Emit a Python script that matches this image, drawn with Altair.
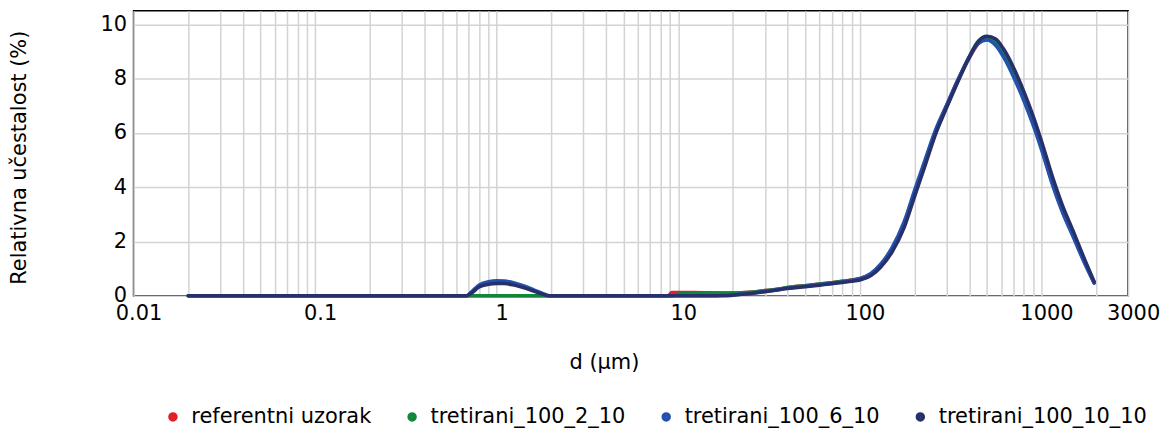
import altair as alt
import pandas as pd

# particle size d (µm)
d_um = [0.02, 0.1, 0.5, 0.68, 0.72, 0.8, 0.9, 1.0, 1.1, 1.25, 1.4, 1.6, 1.8, 1.95,
        5, 8.8, 9.2, 10.5, 12, 15, 18, 20, 25, 30, 35, 40, 50, 60, 70, 80, 90, 100,
        115, 130, 150, 175, 200, 230, 260, 300, 350, 400, 450, 500, 560, 620, 700,
        800, 900, 1000, 1150, 1300, 1500, 1700, 1950]

referentni_uzorak = [0, 0, 0, 0, 0, 0, 0, 0, 0, 0, 0, 0, 0, 0,
                     0, 0, 0.12, 0.12, 0.12, 0.11, 0.10, 0.10, 0.13, 0.19, 0.24, 0.30, 0.37, 0.43, 0.48, 0.53, 0.58, 0.64,
                     0.80, 1.12, 1.70, 2.62, 3.78, 4.98, 6.02, 7.00, 8.00, 8.75, 9.30, 9.45, 9.30, 8.88, 8.20,
                     7.30, 6.40, 5.45, 4.15, 3.15, 2.20, 1.35, 0.48]

tretirani_100_2_10 = [0, 0, 0, 0, 0, 0, 0, 0, 0, 0, 0, 0, 0, 0,
                      0, 0, 0, 0.09, 0.10, 0.10, 0.10, 0.10, 0.13, 0.19, 0.24, 0.30, 0.37, 0.43, 0.48, 0.53, 0.57, 0.62,
                      0.78, 1.08, 1.66, 2.60, 3.76, 4.96, 6.00, 6.98, 7.98, 8.80, 9.38, 9.52, 9.38, 8.98, 8.32,
                      7.42, 6.52, 5.58, 4.26, 3.26, 2.28, 1.40, 0.50]

tretirani_100_6_10 = [0, 0, 0, 0, 0.12, 0.40, 0.52, 0.55, 0.54, 0.47, 0.37, 0.22, 0.08, 0,
                      0, 0, 0, 0, 0, 0, 0.02, 0.04, 0.09, 0.16, 0.22, 0.28, 0.35, 0.41, 0.46, 0.51, 0.56, 0.63,
                      0.82, 1.16, 1.76, 2.72, 3.88, 5.06, 6.08, 7.02, 8.02, 8.80, 9.30, 9.42, 9.22, 8.78, 8.08,
                      7.18, 6.28, 5.38, 4.08, 3.10, 2.14, 1.30, 0.46]

tretirani_100_10_10 = [0, 0, 0, 0, 0.08, 0.32, 0.42, 0.45, 0.45, 0.39, 0.30, 0.17, 0.05, 0,
                       0, 0, 0, 0, 0, 0, 0, 0.02, 0.08, 0.15, 0.21, 0.27, 0.33, 0.39, 0.44, 0.49, 0.53, 0.58,
                       0.74, 1.05, 1.60, 2.50, 3.65, 4.85, 5.92, 6.92, 7.95, 8.78, 9.38, 9.56, 9.46, 9.08, 8.42,
                       7.52, 6.62, 5.70, 4.38, 3.36, 2.36, 1.46, 0.52]

series_names = ["referentni uzorak", "tretirani_100_2_10", "tretirani_100_6_10", "tretirani_100_10_10"]
series_colors = ["#e31f26", "#12873a", "#2352ad", "#27306b"]

x_gridlines = [0.01, 0.02, 0.03, 0.04, 0.05, 0.06, 0.07, 0.08, 0.09,
               0.1, 0.2, 0.3, 0.4, 0.5, 0.6, 0.7, 0.8, 0.9,
               1, 2, 3, 4, 5, 6, 7, 8, 9,
               10, 20, 30, 40, 50, 60, 70, 80, 90,
               100, 200, 300, 400, 500, 600, 700, 800, 900,
               1000, 2000, 3000]
x_labels = [0.01, 0.1, 1, 10, 100, 1000, 3000]
y_ticks = [0, 2, 4, 6, 8, 10]

series_values = [referentni_uzorak, tretirani_100_2_10, tretirani_100_6_10, tretirani_100_10_10]
rows = []
for name, vals in zip(series_names, series_values):
    for d, v in zip(d_um, vals):
        rows.append({"d": d, "v": v, "serija": name})
df = pd.DataFrame(rows)

FONT = "DejaVu Sans"
label_test = " || ".join(f"datum.value == {v}" for v in x_labels)

x_enc = alt.X("d:Q",
              scale=alt.Scale(type="log", domain=[0.01, 3000], nice=False),
              axis=alt.Axis(values=x_gridlines, labelExpr=f"({label_test}) ? '' + datum.value : ''",
                            title="d (µm)", titleX=472, titleY=56,
                            labelOffset=5, labelPadding=7, labelOverlap=False, labelFlush=False,
                            labelBound=False, ticks=False, domain=False))
y_enc = alt.Y("v:Q",
              scale=alt.Scale(domain=[0, 10.5], nice=False),
              axis=alt.Axis(values=y_ticks, title="Relativna učestalost (%)",
                            titleX=-104, titleY=147, labelPadding=7,
                            ticks=False, domain=False))
color_enc = alt.Color("serija:N",
                      scale=alt.Scale(domain=series_names, range=series_colors),
                      legend=alt.Legend(title=None, orient="none", legendX=29, legendY=397,
                                        direction="horizontal", columns=4,
                                        symbolType="circle", symbolSize=20, symbolStrokeWidth=5,
                                        columnPadding=28, labelOffset=8, padding=0, labelLimit=0))

layers = []
for name in series_names:
    layers.append(
        alt.Chart(df).transform_filter(alt.datum.serija == name)
        .mark_line(strokeWidth=3.5, strokeCap="round", strokeJoin="round", interpolate="monotone")
        .encode(x=x_enc, y=y_enc, color=color_enc)
    )

chart = alt.layer(*layers).properties(
    width=998, height=286,
    autosize=alt.AutoSizeParams(type="none"),
    padding={"left": 126, "top": 2, "right": 34, "bottom": 137},
).configure_view(
    stroke="black", strokeWidth=1.5
).configure_axis(
    labelFont=FONT, titleFont=FONT, labelFontSize=21, titleFontSize=21,
    titleFontWeight="normal", labelColor="black", titleColor="black",
    gridColor="#d3d3d3", gridWidth=1.5, gridOpacity=1
).configure_legend(
    labelFont=FONT, labelFontSize=21, labelColor="black"
)

chart.save("out.html", embed_options={"renderer": "svg", "actions": False})
